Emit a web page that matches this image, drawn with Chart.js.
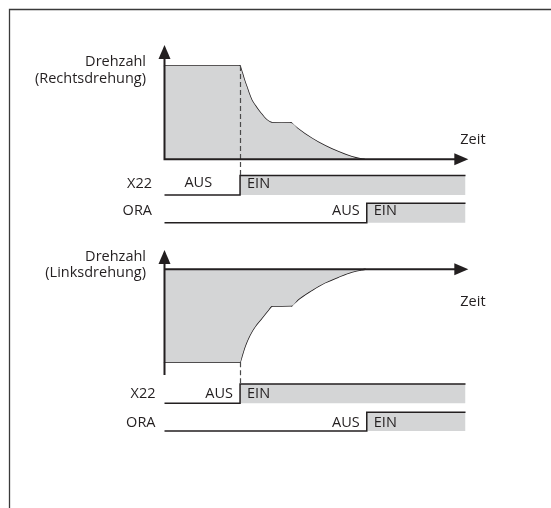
<!DOCTYPE html>
<html>
<head>
<meta charset="utf-8">
<script src="https://cdn.jsdelivr.net/npm/chart.js@4/dist/chart.umd.min.js"></script>
<style>
html,body{margin:0;padding:0;background:#fff;}
#wrap{width:551px;height:508px;position:relative;}
</style>
</head>
<body>
<div id="wrap"><canvas id="c"></canvas></div>
<script>
// ---------------- data ----------------
// time in arbitrary units (0 = speed axis), speed in % of set speed
const timeRechts  = [0, 7.53, 7.63, 7.76, 7.96, 8.2, 8.42, 8.69, 9.02, 9.35, 9.69, 10.02, 10.35, 10.69, 12.61, 13.34, 14.68, 16.0, 17.33, 18.66, 19.49, 19.9];
const speedRechts = [100, 100, 96.5, 92.2, 85, 77.8, 70.7, 63.6, 57.9, 52.8, 48.2, 43.9, 41, 39.2, 39, 32.5, 22.5, 14.6, 8.1, 2.8, 0.6, 0];
const timeLinks   = [0, 7.53, 7.7, 8.02, 8.52, 9.02, 9.69, 10.35, 10.69, 12.68, 13.34, 14.68, 16.0, 17.33, 18.66, 19.66, 20.0];
const speedLinks  = [-100, -100, -94, -83, -70.6, -61.7, -52.7, -43.8, -39.5, -39.2, -32.3, -22.6, -14.4, -8.3, -2.9, -0.4, 0];
const signalNames = ['X22', 'ORA'];
const switchTimes = [7.53, 20.16];      // X22 switches on, ORA switches on
const timeEnd     = 30;                 // end of the signal traces
const stateLabels = ['AUS', 'EIN'];
const speedTitlesRechts = ['Drehzahl', '(Rechtsdrehung)'];
const speedTitlesLinks  = ['Drehzahl', '(Linksdrehung)'];
const timeTitle = 'Zeit';

// ---------------- layout / style ----------------
const W = 551, H = 508;
const INK = '#231f20', FILL = '#d4d5d6';
const FONT = '14.5px "Open Sans", "Noto Sans", sans-serif';
const axisExtent = { timeTip: 30.28, rechtsTip: 122.5, linksTip: 20.8, linksBottom: -113.7 };

// scale ranges chosen so that the whole canvas is the plotting area
function xRange(v0, p0, v1, p1) { const k = (p1 - p0) / (v1 - v0); return { min: v0 - p0 / k, max: v0 + (W - p0) / k }; }
function yRange(v0, p0, v1, p1) { const k = (p1 - p0) / (v1 - v0); return { max: v0 - p0 / k, min: v0 + (H - p0) / k }; }
const hidden = (axis, r) => Object.assign({ type: 'linear', axis, display: false, bounds: 'data', grace: 0 }, r);

const scales = {
  x:     hidden('x', xRange(0, 164.5, 30, 465.5)),
  ySR:   hidden('y', yRange(0, 159.3, 100, 66)),
  ySL:   hidden('y', yRange(0, 269.3, -100, 362.3)),
  sig0R: hidden('y', yRange(0, 195, 1, 175.5)),
  sig1R: hidden('y', yRange(0, 222.7, 1, 203.3)),
  sig0L: hidden('y', yRange(0, 403.3, 1, 384)),
  sig1L: hidden('y', yRange(0, 431, 1, 412.3))
};

const pts = (ts, vs) => ts.map((t, i) => ({ x: t, y: vs[i] }));
const sigPts = s => [{ x: 0, y: 0 }, { x: s, y: 0 }, { x: s, y: 1 }, { x: timeEnd, y: 1 }];

// split a speed trace into flat and curved pieces so corners stay sharp
function pieces(p) {
  const out = []; let cur = [p[0]], flat = null;
  for (let i = 1; i < p.length; i++) {
    const f = Math.abs(p[i].y - p[i - 1].y) <= 0.3;
    if (flat !== null && f !== flat) { out.push(cur); cur = [p[i - 1]]; }
    cur.push(p[i]); flat = f;
  }
  out.push(cur); return out;
}

const base = { xAxisID: 'x', showLine: true, pointRadius: 0, clip: false };
function speedDatasets(p, yAxisID) {
  const res = [Object.assign({}, base, { data: p, yAxisID, fill: 'origin', backgroundColor: FILL,
    borderWidth: 0, borderColor: 'rgba(0,0,0,0)', cubicInterpolationMode: 'monotone' })];
  pieces(p).forEach(seg => res.push(Object.assign({}, base, { data: seg, yAxisID, fill: false,
    borderColor: INK, borderWidth: 1.5, cubicInterpolationMode: 'monotone', borderCapStyle: 'round' })));
  return res;
}
const sigDs = (s, yAxisID) => Object.assign({}, base, { data: sigPts(s), yAxisID, fill: 'origin',
  backgroundColor: FILL, borderColor: INK, borderWidth: 1.5, tension: 0, borderJoinStyle: 'miter' });

const datasets = [
  ...speedDatasets(pts(timeRechts, speedRechts), 'ySR'),
  ...speedDatasets(pts(timeLinks, speedLinks), 'ySL'),
  sigDs(switchTimes[0], 'sig0R'),
  sigDs(switchTimes[1], 'sig1R'),
  sigDs(switchTimes[0], 'sig0L'),
  sigDs(switchTimes[1], 'sig1L')
];

function arrowUp(ctx, x, y) { ctx.beginPath(); ctx.moveTo(x, y); ctx.lineTo(x - 6, y + 14); ctx.lineTo(x + 6, y + 14); ctx.closePath(); ctx.fill(); }
function arrowRight(ctx, x, y) { ctx.beginPath(); ctx.moveTo(x, y); ctx.lineTo(x - 14, y - 6); ctx.lineTo(x - 14, y + 6); ctx.closePath(); ctx.fill(); }
function text(ctx, s, x, y, align) { ctx.textAlign = align; ctx.fillText(s, x, y); }

const decor = {
  id: 'decor',
  afterDatasetsDraw(chart) {
    const ctx = chart.ctx, S = chart.scales, sx = S.x;
    const X = v => sx.getPixelForValue(v);
    ctx.save();
    // frame
    ctx.strokeStyle = '#3a3a3a'; ctx.lineWidth = 1.3;
    ctx.beginPath(); ctx.moveTo(9.5, H + 2); ctx.lineTo(9.5, 9.5); ctx.lineTo(W + 2, 9.5); ctx.stroke();

    // dashed switching lines
    ctx.strokeStyle = '#4a4a4a'; ctx.lineWidth = 1.2; ctx.setLineDash([5, 3]);
    const xs = Math.round(X(switchTimes[0])) + 0.5;
    ctx.beginPath();
    ctx.moveTo(xs, S.ySR.getPixelForValue(100)); ctx.lineTo(xs, S.sig0R.getPixelForValue(1));
    ctx.moveTo(xs, S.ySL.getPixelForValue(-100)); ctx.lineTo(xs, S.sig0L.getPixelForValue(1));
    ctx.stroke();
    ctx.setLineDash([]);

    // axes with arrows
    ctx.strokeStyle = INK; ctx.fillStyle = INK; ctx.lineWidth = 2;
    const x0 = X(0), xTip = X(axisExtent.timeTip);
    const yR0 = S.ySR.getPixelForValue(0), yRTip = S.ySR.getPixelForValue(axisExtent.rechtsTip);
    const yL0 = S.ySL.getPixelForValue(0), yLTip = S.ySL.getPixelForValue(axisExtent.linksTip), yLBot = S.ySL.getPixelForValue(axisExtent.linksBottom);
    ctx.beginPath();
    ctx.moveTo(x0, yRTip + 10); ctx.lineTo(x0, yR0); ctx.lineTo(xTip - 10, yR0);
    ctx.moveTo(x0, yLTip + 10); ctx.lineTo(x0, yLBot);
    ctx.moveTo(x0, yL0); ctx.lineTo(xTip - 10, yL0);
    ctx.stroke();
    arrowUp(ctx, x0, yRTip); arrowRight(ctx, xTip, yR0);
    arrowUp(ctx, x0, yLTip); arrowRight(ctx, xTip, yL0);

    // texts
    ctx.font = FONT; ctx.fillStyle = INK; ctx.textBaseline = 'middle';
    const yR100 = S.ySR.getPixelForValue(100);
    text(ctx, speedTitlesRechts[0], x0 - 18.5, yR100 - 4, 'right');
    text(ctx, speedTitlesRechts[1], x0 - 18.5, yR100 + 13.3, 'right');
    text(ctx, timeTitle, xTip - 8, yR0 - 19.3, 'left');
    text(ctx, speedTitlesLinks[0], x0 - 18.5, yL0 - 12.6, 'right');
    text(ctx, speedTitlesLinks[1], x0 - 18.5, yL0 + 4, 'right');
    text(ctx, timeTitle, xTip - 8, yL0 + 32.4, 'left');

    const rows = [
      { sc: S.sig0R, name: signalNames[0], nameDx: -12.5, dy: -1.3, sw: switchTimes[0], ausCentered: true },
      { sc: S.sig1R, name: signalNames[1], nameDx: -12.5, dy: -1.8, sw: switchTimes[1] },
      { sc: S.sig0L, name: signalNames[0], nameDx: -9, dy: 0.6, sw: switchTimes[0] },
      { sc: S.sig1L, name: signalNames[1], nameDx: -9, dy: 0.8, sw: switchTimes[1] }
    ];
    rows.forEach(r => {
      const ym = r.sc.getPixelForValue(0.5) + r.dy;
      const xsw = X(r.sw);
      text(ctx, r.name, x0 + r.nameDx, ym, 'right');
      if (r.ausCentered) text(ctx, stateLabels[0], (x0 + xsw) / 2 - 4, ym - 1, 'center');
      else text(ctx, stateLabels[0], xsw - 7, ym, 'right');
      text(ctx, stateLabels[1], xsw + 7, ym, 'left');
    });
    ctx.restore();
  }
};

new Chart(document.getElementById('c'), {
  type: 'scatter',
  data: { datasets },
  options: {
    responsive: true, maintainAspectRatio: false, devicePixelRatio: 1,
    animation: false, events: [],
    layout: { padding: 0 },
    scales,
    plugins: { legend: { display: false }, tooltip: { enabled: false }, title: { display: false } }
  },
  plugins: [decor]
});
</script>
</body>
</html>
